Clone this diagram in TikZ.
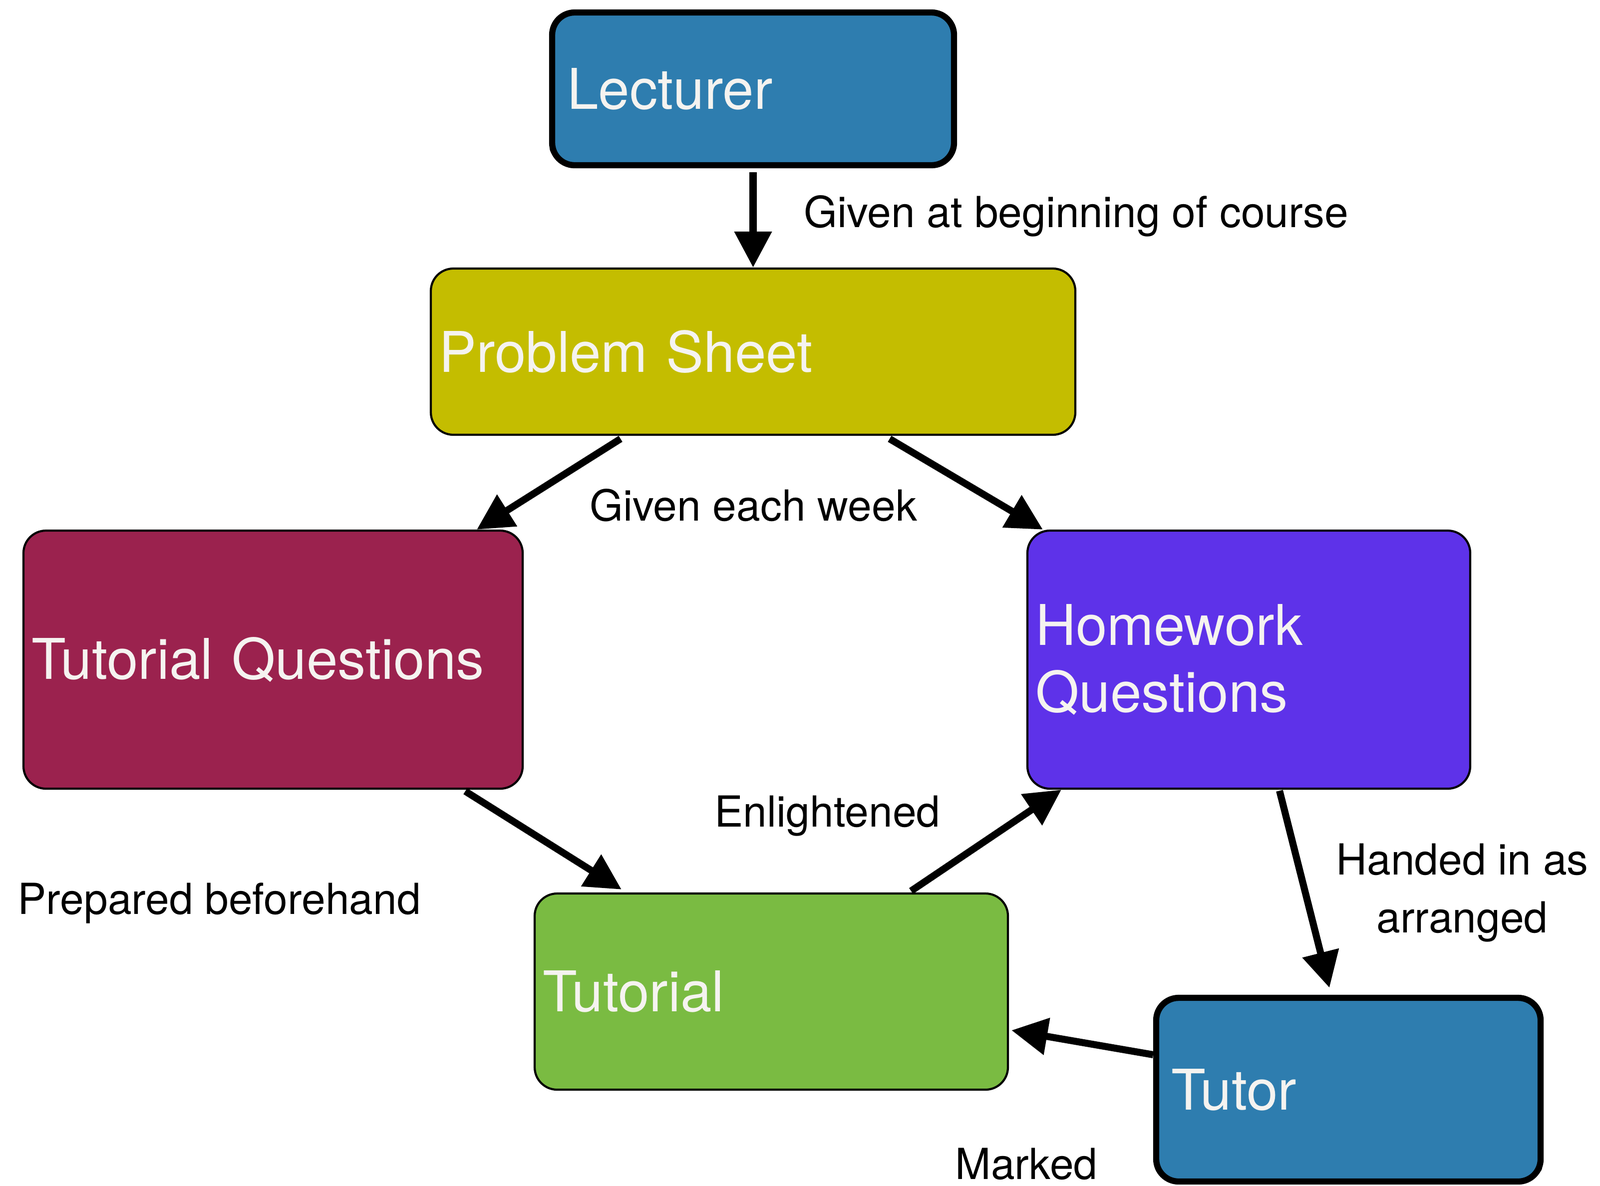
\documentclass[tikz,border=0pt]{standalone}
\usepackage{fontspec}
\setmainfont{TeX Gyre Heros}
\usepackage{tikz}
\usetikzlibrary{arrows.meta,shadows,decorations.pathmorphing}
\usepackage{xcolor}
\definecolor{tutorblue}{RGB}{46, 125, 175}
\definecolor{sheetolive}{RGB}{196, 189, 0}
\definecolor{questmaroon}{RGB}{155, 34, 78}
\definecolor{homeviolet}{RGB}{94, 50, 233}
\definecolor{tutgreen}{RGB}{122, 187, 66}
\definecolor{boxtext}{RGB}{245, 243, 240}

\tikzset{
  box/.style={rectangle, rounded corners=0.45cm, draw=black, line width=1.2pt,
    text=boxtext, align=left, inner xsep=0.16cm,
    font=\fontsize{32}{38}\selectfont},
  roughbox/.style={box, fill=tutorblue, line width=3.5pt, inner xsep=0.3cm,
    drop shadow={opacity=0.3, shadow xshift=0.03cm, shadow yshift=-0.06cm},
    postaction={draw, line width=1.4pt, rounded corners=0.4pt, decorate,
      decoration={random steps, segment length=3pt, amplitude=0.9pt}}},
  lbl/.style={font=\fontsize{24.4}{33}\selectfont, inner sep=0pt},
  arr/.style={-{Triangle[length=0.72cm, width=0.72cm]}, line width=4pt}
}

\begin{document}
\begin{tikzpicture}
\useasboundingbox (0,0) rectangle (32.05,-23.75);

% Boxes
\node[roughbox, text width=7.45cm, minimum height=3.06cm] (lect) at (15.085,-1.78) {Lecturer};
\node[box, fill=sheetolive, text width=12.59cm, minimum height=3.33cm] (sheet) at (15.085,-7.045) {Problem Sheet};
\node[box, fill=questmaroon, text width=9.68cm, minimum height=5.17cm] (tutq) at (5.47,-13.215) {Tutorial Questions};
\node[box, fill=homeviolet, text width=8.55cm, minimum height=5.17cm] (homeq) at (25.015,-13.215) {Homework\\Questions};
\node[box, fill=tutgreen, text width=9.16cm, minimum height=3.93cm] (tutorial) at (15.45,-19.865) {Tutorial};
\node[roughbox, text width=7.1cm, minimum height=3.68cm] (tutor) at (27.01,-21.83) {Tutor};

% Arrows
\draw[arr] ([yshift=-0.08cm]lect.south) -- (sheet.north);
\draw[arr] ([xshift=-2.655cm,yshift=-0.06cm]sheet.south) -- ([xshift=4.08cm]tutq.north);
\draw[arr] ([xshift=2.735cm,yshift=-0.06cm]sheet.south) -- ([xshift=-4.125cm]homeq.north);
\draw[arr] ([xshift=3.85cm,yshift=-0.03cm]tutq.south) -- ([xshift=-3.0cm,yshift=0.06cm]tutorial.north);
\draw[arr] ([xshift=2.8cm,yshift=0.03cm]tutorial.north) -- ([xshift=-3.755cm]homeq.south);
\draw[arr] ([xshift=0.615cm,yshift=-0.02cm]homeq.south) -- ([xshift=-0.38cm,yshift=0.14cm]tutor.north);
\draw[arr] ([yshift=0.7cm]tutor.west) -- ([xshift=0.05cm,yshift=-0.775cm]tutorial.east);

% Labels
\node[lbl, anchor=west] (given) at (16.1,-4.33) {Given at beginning of course};
\node[lbl, anchor=west] (weekly) at (11.81,-10.12) {Given each week};
\node[lbl, anchor=west] (enlight) at (14.31,-16.35) {Enlightened};
\node[lbl, anchor=west] (prepared) at (0.35,-18.09) {Prepared beforehand};
\node[lbl, align=center] (handed) at (29.29,-17.89) {Handed in as\\arranged};
\node[lbl, anchor=base west] (marked) at (19.13,-23.62) {Marked};
\end{tikzpicture}
\end{document}
